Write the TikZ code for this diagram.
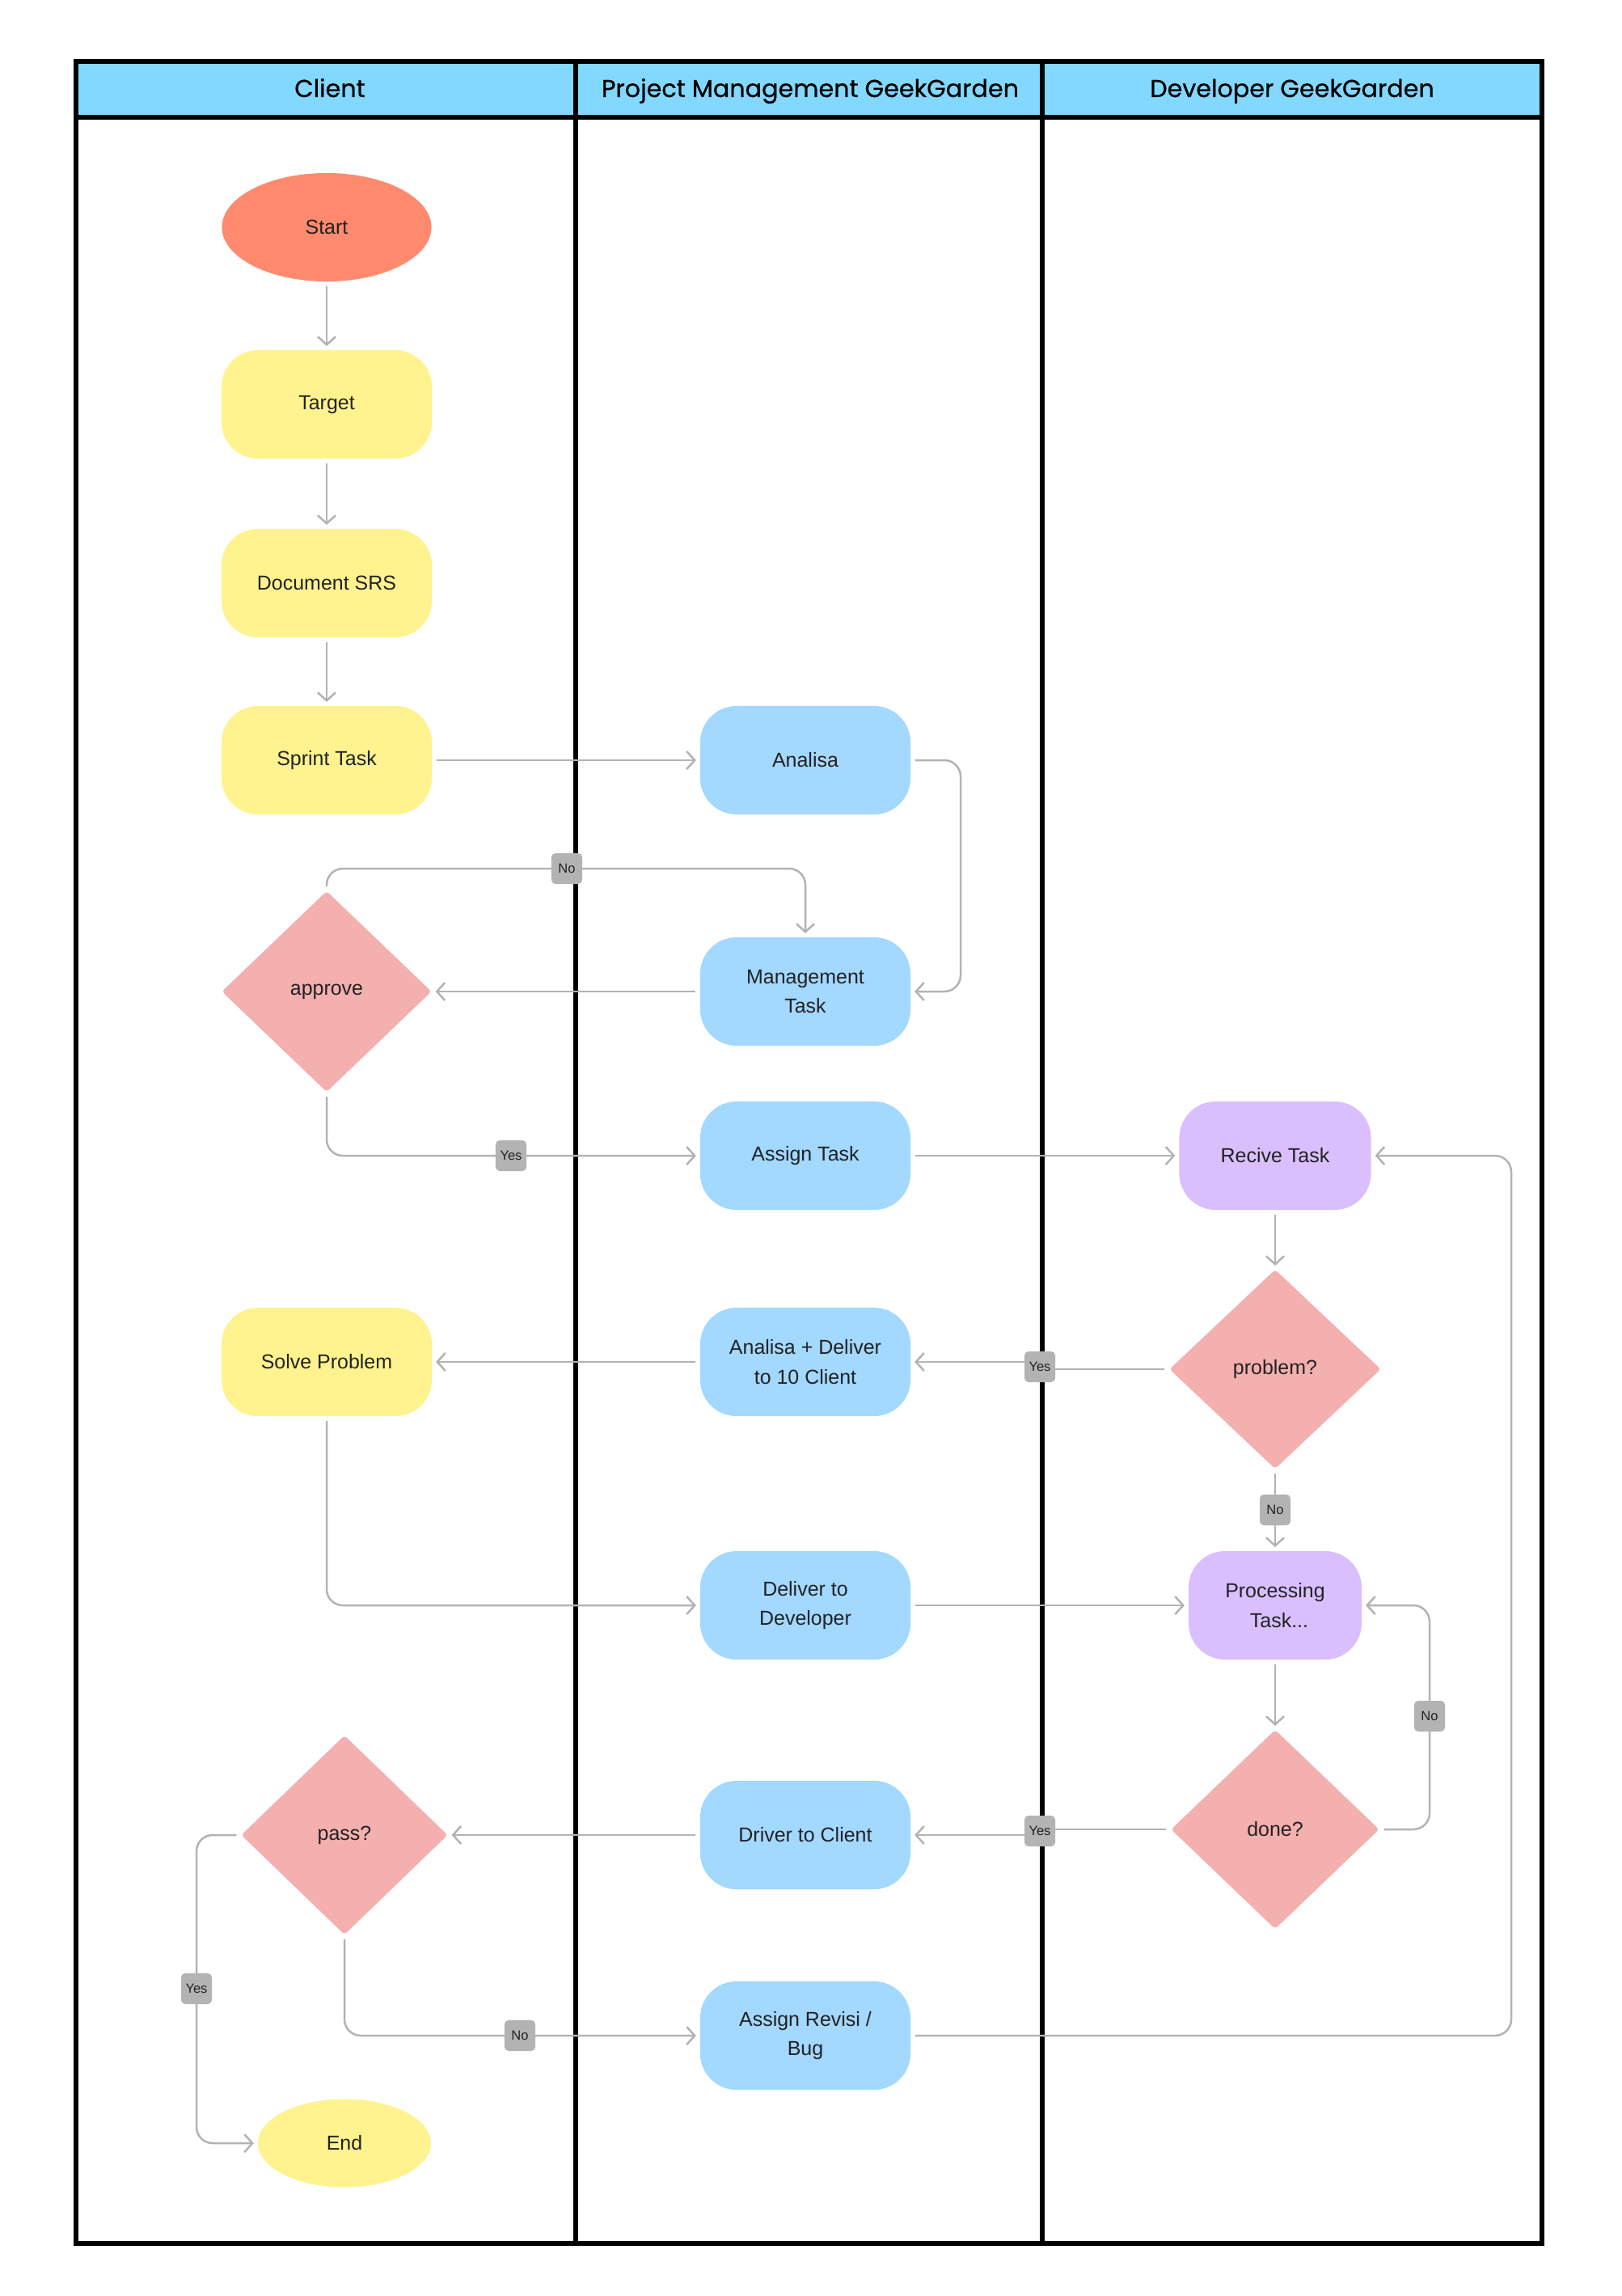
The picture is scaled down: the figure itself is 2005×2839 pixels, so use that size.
\documentclass[tikz,border=0pt]{standalone}
\usepackage{fontspec}
\setmainfont{Liberation Sans}
\newfontfamily\headfont[FakeBold=0.7]{Poppins}
\usepackage{xcolor}
\usetikzlibrary{arrows.meta,shapes.geometric}

\definecolor{headblue}{HTML}{82D8FF}
\definecolor{startred}{HTML}{FF8A6E}
\definecolor{clientyellow}{HTML}{FFF38F}
\definecolor{pmblue}{HTML}{A3D8FF}
\definecolor{devpurple}{HTML}{DABFFF}
\definecolor{decpink}{HTML}{F4AFAF}
\definecolor{linegray}{HTML}{B3B3B3}
\definecolor{textdark}{HTML}{222222}

\begin{document}
\begin{tikzpicture}[
  x=0.01cm, y=-0.01cm,
  lane/.style={draw=black, line width=0.055cm},
  lanetitle/.style={anchor=base, font=\headfont\fontsize{8.6}{10}\selectfont, text=black},
  box/.style={rounded corners=0.45cm, minimum width=2.6cm, minimum height=1.34cm,
    inner sep=0pt, outer sep=0pt, align=center, text=textdark,
    font=\fontsize{7.1}{10.3}\selectfont},
  clientbox/.style={box, fill=clientyellow},
  pmbox/.style={box, fill=pmblue},
  devbox/.style={box, fill=devpurple},
  terminal/.style={ellipse, inner sep=0pt, outer sep=0pt, text=textdark,
    font=\fontsize{7.1}{10.3}\selectfont},
  decision/.style={diamond, fill=decpink, inner sep=0pt, outer sep=0pt,
    rounded corners=0.04cm, text=textdark, font=\fontsize{7.1}{10.3}\selectfont},
  tag/.style={fill=linegray, rounded corners=0.05cm, minimum width=0.38cm,
    minimum height=0.38cm, inner xsep=0.05cm, inner ysep=0pt, text=textdark,
    font=\fontsize{4.7}{5}\selectfont},
  flow/.style={draw=linegray, line width=0.025cm, rounded corners=0.2cm,
    shorten >=0.05cm, shorten <=0.06cm,
    -{Straight Barb[length=0.1cm,width=0.22cm]}}
]
\useasboundingbox (0,0) rectangle (2005,2839);

\fill[headblue] (94,76) rectangle (1907,145);
\draw[lane] (94,76) rectangle (1907,2774);
\draw[lane] (94,145) -- (1907,145);
\draw[lane] (712,76) -- (712,2774);
\draw[lane] (1289,76) -- (1289,2774);
\node[lanetitle] (client) at (408,120) {Client};
\node[lanetitle] (pm) at (1002,120) {Project Management GeekGarden};
\node[lanetitle] (dev) at (1598,120) {Developer GeekGarden};

\node[terminal, fill=startred, minimum width=2.59cm, minimum height=1.34cm] (start) at (404,281) {Start};
\node[clientbox] (target) at (404,500) {Target};
\node[clientbox] (srs) at (404,721) {Document SRS};
\node[clientbox] (sprint) at (404,940) {Sprint Task};
\node[decision, minimum width=2.59cm, minimum height=2.48cm] (approve) at (404,1226) {approve};
\node[clientbox] (solve) at (404,1684) {Solve Problem};
\node[decision, minimum width=2.55cm, minimum height=2.46cm] (pass) at (426,2269) {pass?};
\node[terminal, fill=clientyellow, minimum width=2.14cm, minimum height=1.09cm] (end) at (426,2650) {End};

\node[pmbox] (analisa) at (996,940) {Analisa};
\node[pmbox] (mgmt) at (996,1226) {Management\\Task};
\node[pmbox] (assign) at (996,1429) {Assign Task};
\node[pmbox] (adeliver) at (996,1684) {Analisa + Deliver\\to 10 Client};
\node[pmbox] (deliver) at (996,1985) {Deliver to\\Developer};
\node[pmbox] (driver) at (996,2269) {Driver to Client};
\node[pmbox] (revisi) at (996,2517) {Assign Revisi /\\Bug};

\node[devbox, minimum width=2.37cm] (recive) at (1577,1429) {Recive Task};
\node[decision, minimum width=2.61cm, minimum height=2.46cm] (problem) at (1577,1693) {problem?};
\node[devbox, minimum width=2.14cm] (process) at (1577,1985) {Processing\\\hspace*{0.1cm}Task...};
\node[decision, minimum width=2.57cm, minimum height=2.46cm] (done) at (1577,2262) {done?};

\coordinate (analoop) at (1188,940);
\coordinate (loopright) at (1869,2517);
\coordinate (cno1) at (701,1074);
\coordinate (cyes1) at (632,1429);
\coordinate (cyes2) at (1286,1690);
\coordinate (cno2) at (1577,1867);
\coordinate (cno3) at (1768,2122);
\coordinate (cyes3) at (1286,2264);
\coordinate (cyes4) at (243,2459);
\coordinate (cno4) at (643,2517);

\draw[flow] (start) -- (target);
\draw[flow] (target) -- (srs);
\draw[flow] (srs) -- (sprint);
\draw[flow] (sprint) -- (analisa);
\draw[flow] (analisa.east) -- (analoop) |- (mgmt.east);
\draw[flow] (mgmt) -- (approve);
\draw[flow] (approve.north) |- (cno1) -| (mgmt.north);
\draw[flow] (approve.south) |- (cyes1) -- (assign.west);
\draw[flow] (assign) -- (recive);
\draw[flow] (recive) -- (problem);
\draw[flow, sharp corners] (problem.west) -- (problem.west -| cyes2) |- (adeliver.east);
\draw[flow] (adeliver) -- (solve);
\draw[flow] (problem) -- (process);
\draw[flow] (solve.south) |- (deliver.west);
\draw[flow] (deliver) -- (process);
\draw[flow] (process) -- (done);
\draw[flow] (done.east) -| (cno3) |- (process.east);
\draw[flow, sharp corners] (done.west) -- (done.west -| cyes3) |- (driver.east);
\draw[flow] (driver) -- (pass);
\draw[flow] (pass.west) -| (cyes4) |- (end.west);
\draw[flow] (pass.south) |- (cno4) -- (revisi.west);
\draw[flow] (revisi.east) -- (loopright) |- (recive.east);

\node[tag] (tagno1) at (cno1) {No};
\node[tag] (tagyes1) at (cyes1) {Yes};
\node[tag] (tagyes2) at (cyes2) {Yes};
\node[tag] (tagno2) at (cno2) {No};
\node[tag] (tagno3) at (cno3) {No};
\node[tag] (tagyes3) at (cyes3) {Yes};
\node[tag] (tagyes4) at (cyes4) {Yes};
\node[tag] (tagno4) at (cno4) {No};
\end{tikzpicture}
\end{document}
